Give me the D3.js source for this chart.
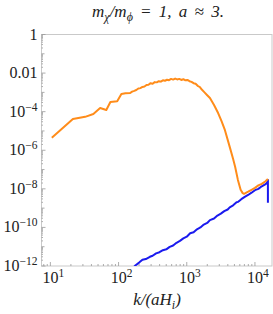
<!DOCTYPE html>
<html>
<head>
<meta charset="utf-8">
<script src="https://cdn.jsdelivr.net/npm/d3@7"></script>
<style>
  body { margin: 0; background: #fff; }
  svg { display: block; }
</style>
</head>
<body>
<svg width="273" height="314"></svg>
<script>
// orange curve (k, value)
var orangeK = [10.5, 21.4, 32.4, 42.7, 53.7, 66.1, 75.9, 95.5, 110, 126, 148, 158, 170, 182, 195, 209, 224, 240,
  257, 275, 295, 316, 339, 363, 389, 417, 447, 479, 513, 550, 589, 631, 676, 724, 776, 832, 891, 955, 1023,
  1096, 1175, 1259, 1349, 1445, 1549, 1660, 1820, 1995, 2188, 2512, 2884, 3236, 3631, 4266, 4786, 5129, 5623,
  6166, 6607, 6918, 7943, 8913, 10000, 11220, 12589, 14125, 15488];
var orangeV = [4.4e-6, 4.2e-5, 5.4e-5, 7.6e-5, 1.55e-4, 1.23e-4, 3.2e-4, 3.5e-4, 8.3e-4, 8.9e-4, 9.3e-4, 1.1e-3,
  1.2e-3, 1.32e-3, 1.58e-3, 1.66e-3, 1.9e-3, 2.0e-3, 2.4e-3, 2.5e-3, 3.0e-3, 2.8e-3, 3.4e-3, 3.3e-3, 3.8e-3,
  3.6e-3, 4.2e-3, 4.0e-3, 4.5e-3, 4.3e-3, 5.0e-3, 4.6e-3, 5.2e-3, 4.7e-3, 5.0e-3, 4.4e-3, 4.8e-3, 4.2e-3,
  4.4e-3, 3.8e-3, 3.5e-3, 3.0e-3, 2.8e-3, 2.2e-3, 1.9e-3, 1.4e-3, 1.0e-3, 7.1e-4, 5.1e-4, 2.2e-4, 8.5e-5,
  3.2e-5, 1.1e-5, 1.5e-6, 3.5e-7, 1.35e-7, 2.9e-8, 8.9e-9, 6.0e-9, 5.5e-9, 7.1e-9, 8.9e-9, 1.12e-8, 1.5e-8,
  1.8e-8, 2.4e-8, 3.2e-8];

// blue curve (k, value)
var blueK = [150, 178, 200, 224, 251, 288, 316, 355, 398, 447, 501, 562, 631, 708, 794, 891, 1000, 1122, 1259,
  1413, 1585, 1778, 1995, 2188, 2512, 2818, 3162, 3548, 3981, 4266, 4786, 5370, 5623, 6310, 7079, 7943, 8913,
  10000, 11220, 12589, 14125, 15136, 15488, 15488];
var blueV = [6.0e-13, 1.1e-12, 1.5e-12, 2.1e-12, 2.3e-12, 3.0e-12, 3.4e-12, 4.5e-12, 5.2e-12, 6.6e-12, 7.3e-12,
  9.8e-12, 1.15e-11, 1.6e-11, 2.0e-11, 2.7e-11, 3.3e-11, 5.0e-11, 5.6e-11, 8.0e-11, 1.0e-10, 1.4e-10, 1.7e-10,
  2.4e-10, 2.9e-10, 4.1e-10, 5.2e-10, 7.0e-10, 8.5e-10, 1.1e-9, 1.4e-9, 2.0e-9, 2.1e-9, 2.9e-9, 3.8e-9, 4.8e-9,
  6.3e-9, 8.5e-9, 1.0e-8, 1.35e-8, 1.7e-8, 2.1e-8, 2.9e-8, 1.9e-9];

var xTickPow = [1, 2, 3, 4];
var yTickLabels = [[0, "1"], [-2, "0.01"], [-4, "10", "\u22124"], [-6, "10", "\u22126"], [-8, "10", "\u22128"],
  [-10, "10", "\u221210"], [-12, "10", "\u221212"]];

var FONT = "Liberation Serif";

var svg = d3.select("svg"),
    pLeft = 41.5, pRight = 272, pTop = 34.5, pBottom = 266;

var x = d3.scaleLog().domain([Math.pow(10, 0.87), Math.pow(10, 4.25)]).range([pLeft, pRight]);
var y = d3.scaleLog().domain([1e-12, 1]).range([pBottom, pTop]);

svg.append("clipPath").attr("id", "clip")
  .append("rect").attr("x", pLeft).attr("y", pTop).attr("width", pRight - pLeft).attr("height", pBottom - pTop);

// frame
svg.append("rect").attr("x", pLeft).attr("y", pTop).attr("width", pRight - pLeft).attr("height", pBottom - pTop)
  .attr("fill", "none").attr("stroke", "#c9c9c9").attr("stroke-width", 1);

// minor + major ticks on y
for (var p = -12; p <= 0; p++) {
  for (var m = 1; m < 10; m++) {
    var v = m * Math.pow(10, p);
    if (v > 1) break;
    var len = (m == 1) ? (p % 2 == 0 ? 4 : 3) : 1.5;
    svg.append("line").attr("x1", pLeft).attr("x2", pLeft + len)
      .attr("y1", y(v)).attr("y2", y(v)).attr("stroke", "#999").attr("stroke-width", 0.8);
  }
}
// minor + major ticks on x
for (var p = 0; p <= 4; p++) {
  for (var m = 1; m < 10; m++) {
    var v = m * Math.pow(10, p);
    if (v < x.domain()[0] || v > x.domain()[1]) continue;
    var len = (m == 1) ? 4 : 2;
    svg.append("line").attr("x1", x(v)).attr("x2", x(v))
      .attr("y1", pBottom).attr("y2", pBottom - len).attr("stroke", "#999").attr("stroke-width", 0.8);
  }
}

function txt(xp, yp, anchor, size) {
  return svg.append("text").attr("x", xp).attr("y", yp).attr("text-anchor", anchor)
    .attr("font-family", FONT).attr("font-size", size).attr("fill", "#222");
}

// y labels
yTickLabels.forEach(function(d) {
  var t = txt(37.5, y(Math.pow(10, d[0])) + 5, "end", 16);
  t.append("tspan").text(d[1]);
  if (d[2]) t.append("tspan").attr("dy", -6).attr("font-size", 11.5).text(d[2]);
});

// x labels
xTickPow.forEach(function(pw) {
  var t = txt(x(Math.pow(10, pw)) + 3, 283, "middle", 16);
  t.append("tspan").text("10");
  t.append("tspan").attr("dy", -6).attr("font-size", 11.5).text(pw);
});

var line = d3.line()
  .x(function(d) { return x(d[0]); })
  .y(function(d) { return y(d[1]); });

var g = svg.append("g").attr("clip-path", "url(#clip)");

g.append("path").datum(blueK.map(function(k, i) { return [k, blueV[i]]; }))
  .attr("d", line).attr("fill", "none").attr("stroke", "#1a1aee").attr("stroke-width", 2)
  .attr("stroke-linejoin", "round");

g.append("path").datum(orangeK.map(function(k, i) { return [k, orangeV[i]]; }))
  .attr("d", line).attr("fill", "none").attr("stroke", "#ff8c1a").attr("stroke-width", 2)
  .attr("stroke-linejoin", "round");

// title
var title = txt(158, 17, "middle", 17).attr("font-style", "italic").attr("word-spacing", 3);
title.append("tspan").text("m");
title.append("tspan").attr("dy", 3.5).attr("font-size", 12).text("\u03c7");
title.append("tspan").attr("dy", -3.5).text("/m");
title.append("tspan").attr("dy", 3.5).attr("font-size", 12).text("\u03d5");
title.append("tspan").attr("dy", -3.5).text(" = 1, a \u2248 3.");

// x axis label
var xl = txt(157, 305, "middle", 17).attr("font-style", "italic");
xl.append("tspan").text("k/(aH");
xl.append("tspan").attr("dy", 3.5).attr("font-size", 12).text("i");
xl.append("tspan").attr("dy", -3.5).text(")");
</script>
</body>
</html>
